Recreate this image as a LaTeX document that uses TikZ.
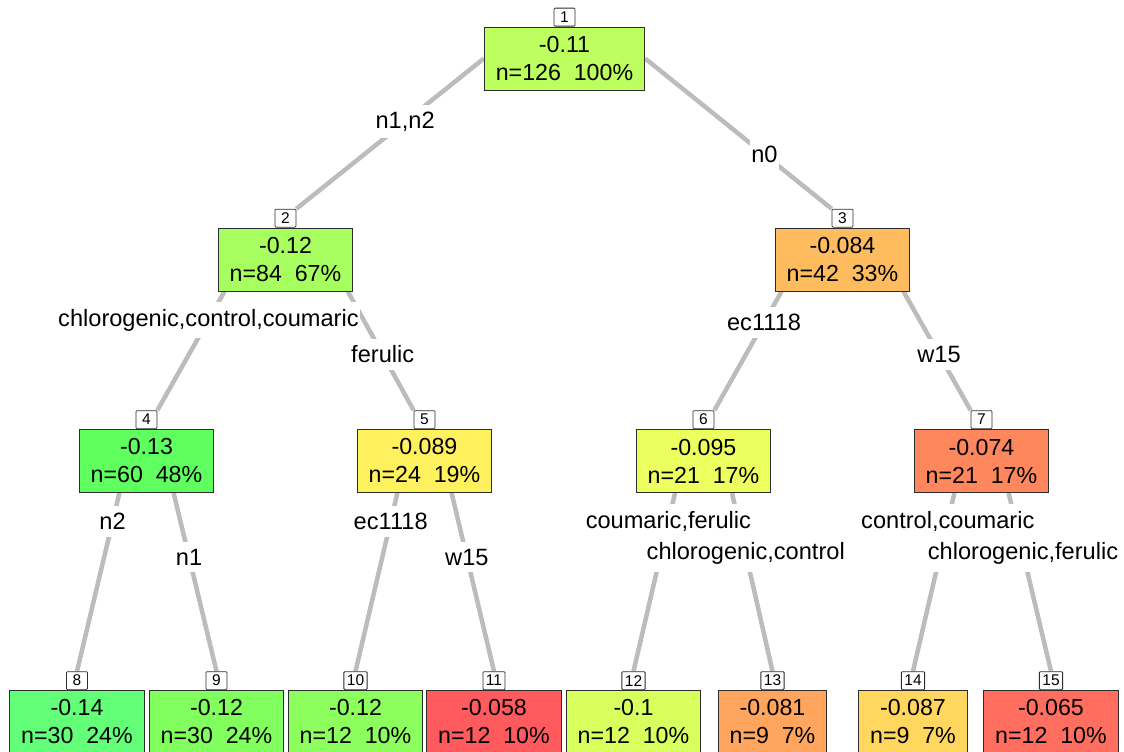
\documentclass[tikz,border=0pt]{standalone}
\usepackage{fontspec}
\setmainfont{Liberation Sans}
\usetikzlibrary{positioning,calc,backgrounds}

\definecolor{branchgray}{RGB}{188,188,188}
\definecolor{boxline}{RGB}{45,45,45}
\definecolor{col1}{RGB}{188,255,94}
\definecolor{col2}{RGB}{166,255,94}
\definecolor{col3}{RGB}{255,188,94}
\definecolor{col4}{RGB}{94,255,94}
\definecolor{col5}{RGB}{255,240,94}
\definecolor{col6}{RGB}{236,255,94}
\definecolor{col7}{RGB}{255,135,94}
\definecolor{col8}{RGB}{99,255,120}
\definecolor{col9}{RGB}{128,255,94}
\definecolor{col10}{RGB}{140,255,94}
\definecolor{col11}{RGB}{255,90,94}
\definecolor{col12}{RGB}{215,255,94}
\definecolor{col13}{RGB}{255,165,94}
\definecolor{col14}{RGB}{255,215,94}
\definecolor{col15}{RGB}{255,110,94}

\tikzset{
  treebox/.style={draw=boxline, line width=0.9pt, align=center,
    font=\fontsize{23.2}{28}\selectfont, inner xsep=11.5pt, inner ysep=2pt,
    minimum height=63pt},
  nodenum/.style={draw=boxline, fill=white, line width=0.8pt,
    font=\fontsize{15.5}{15.5}\selectfont, minimum width=21pt,
    minimum height=18pt, inner xsep=3pt, inner ysep=1pt, rounded corners=1pt},
  branch/.style={draw=branchgray, line width=4.5pt},
  split/.style={fill=white, font=\fontsize{23.6}{23.6}\selectfont,
    inner xsep=1pt, inner ysep=7pt},
}

\begin{document}
\begin{tikzpicture}[x=1pt,y=-1pt]
\clip (0,0) rectangle (1124,752);

% Tree nodes
\node[treebox,fill=col1] (n1) at (564.5,58.5) {-0.11\\n=126\ \ 100\%};
\node[treebox,fill=col2] (n2) at (285.5,259.5) {-0.12\\n=84\ \ 67\%};
\node[treebox,fill=col3] (n3) at (842.5,259.5) {-0.084\\n=42\ \ 33\%};
\node[treebox,fill=col4] (n4) at (146.5,461) {-0.13\\n=60\ \ 48\%};
\node[treebox,fill=col5] (n5) at (424.5,461) {-0.089\\n=24\ \ 19\%};
\node[treebox,fill=col6] (n6) at (703.5,461) {-0.095\\n=21\ \ 17\%};
\node[treebox,fill=col7] (n7) at (981.5,461) {-0.074\\n=21\ \ 17\%};
\node[treebox,fill=col8] (n8) at (77,722) {-0.14\\n=30\ \ 24\%};
\node[treebox,fill=col9] (n9) at (216.5,722) {-0.12\\n=30\ \ 24\%};
\node[treebox,fill=col10] (n10) at (355.5,722) {-0.12\\n=12\ \ 10\%};
\node[treebox,fill=col11] (n11) at (494,722) {-0.058\\n=12\ \ 10\%};
\node[treebox,fill=col12] (n12) at (633.5,722) {-0.1\\n=12\ \ 10\%};
\node[treebox,fill=col13] (n13) at (772.5,722) {-0.081\\n=9\ \ 7\%};
\node[treebox,fill=col14] (n14) at (913,722) {-0.087\\n=9\ \ 7\%};
\node[treebox,fill=col15] (n15) at (1051,722) {-0.065\\n=12\ \ 10\%};

% Node numbers
\foreach \k in {1,...,15}
  \node[nodenum,above=0pt of n\k] (l\k) {\k};

% Branches
\begin{scope}[on background layer]
\draw[branch] (n1.west) -- coordinate[pos=0.42] (s2) (l2.north east);
\draw[branch] (n1.east) -- coordinate[pos=0.64] (s3) (l3.north west);
\draw[branch] ($(n2.south west)!0.05!(n2.south east)$) -- coordinate[pos=0.24] (s4) (l4.north east);
\draw[branch] ($(n2.south west)!0.96!(n2.south east)$) -- coordinate[pos=0.53] (s5) (l5.north west);
\draw[branch] ($(n3.south west)!0.05!(n3.south east)$) -- coordinate[pos=0.26] (s6) (l6.north east);
\draw[branch] ($(n3.south west)!0.95!(n3.south east)$) -- coordinate[pos=0.53] (s7) (l7.north west);
\draw[branch] ($(n4.south west)!0.3!(n4.south east)$) -- coordinate[pos=0.16] (s8) (l8.north);
\draw[branch] ($(n4.south west)!0.7!(n4.south east)$) -- coordinate[pos=0.36] (s9) (l9.north);
\draw[branch] ($(n5.south west)!0.3!(n5.south east)$) -- coordinate[pos=0.16] (s10) (l10.north);
\draw[branch] ($(n5.south west)!0.7!(n5.south east)$) -- coordinate[pos=0.36] (s11) (l11.north);
\draw[branch] ($(n6.south west)!0.29!(n6.south east)$) -- coordinate[pos=0.16] (s12) (l12.north);
\draw[branch] ($(n6.south west)!0.71!(n6.south east)$) -- coordinate[pos=0.34] (s13) (l13.north);
\draw[branch] ($(n7.south west)!0.3!(n7.south east)$) -- coordinate[pos=0.16] (s14) (l14.north);
\draw[branch] ($(n7.south west)!0.7!(n7.south east)$) -- coordinate[pos=0.34] (s15) (l15.north);
\end{scope}

% Split labels
\node[split] at (s2) {n1,n2};
\node[split] at (s3) {n0};
\node[split] at (s4) {chlorogenic,control,coumaric};
\node[split] at (s5) {ferulic};
\node[split] at (s6) {ec1118};
\node[split] at (s7) {w15};
\node[split] at (s8) {n2};
\node[split] at (s9) {n1};
\node[split] at (s10) {ec1118};
\node[split] at (s11) {w15};
\node[split] at (s12) {coumaric,ferulic};
\node[split] at (s13) {chlorogenic,control};
\node[split] at (s14) {control,coumaric};
\node[split] at (s15) {chlorogenic,ferulic};
\end{tikzpicture}
\end{document}
